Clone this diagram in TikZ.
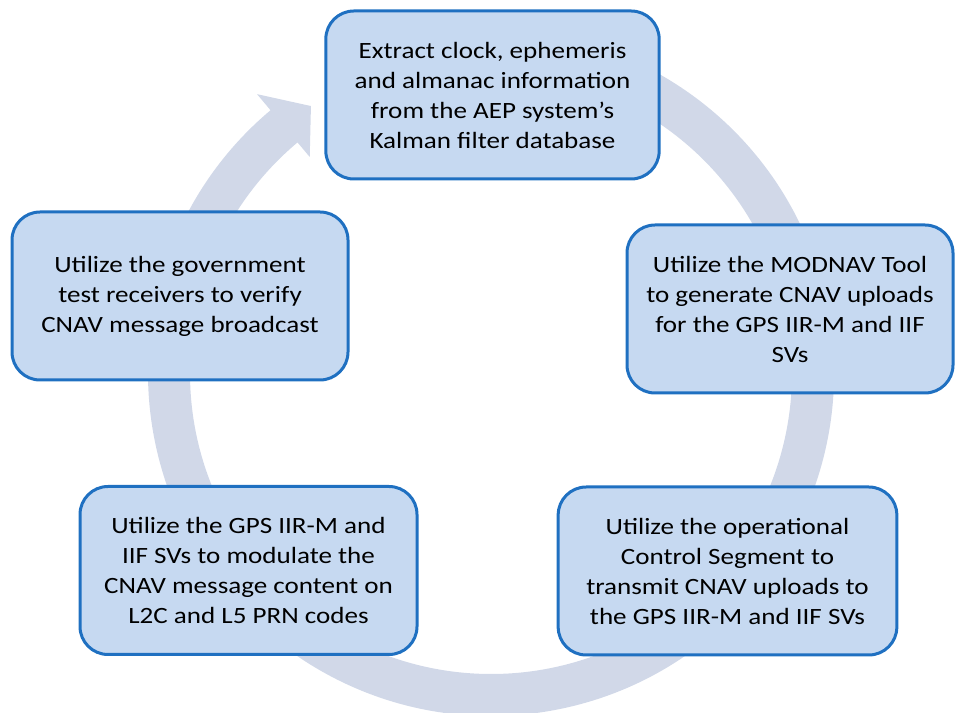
\documentclass[tikz,border=0pt]{standalone}
\usepackage{fontspec}
\setmainfont{Carlito}[FakeStretch=1.16]
\usepackage{tikz}
\usetikzlibrary{calc,positioning}
\definecolor{colorring}{HTML}{D1D8E8}
\definecolor{colorbox}{HTML}{C6D9F1}
\definecolor{colorline}{HTML}{1F70C1}
\tikzset{
  stepbox/.style={draw=colorline, fill=colorbox, line width=2.25pt, rounded corners=21pt,
    align=center, inner sep=0pt, minimum height=126pt,
    font=\fontsize{17.5}{22.5}\selectfont},
  ring/.style={fill=colorring}
}

\begin{document}
\begin{tikzpicture}[x=0.75pt, y=0.75pt]
\useasboundingbox (0,0) rectangle (956,713);
\coordinate (c) at (491,340);
\fill[ring] ($(c)+(100:343)$) arc[start angle=100, end angle=-230, radius=343]
  -- ($(c)+(130:364)$) -- ($(c)+(124:322)$) -- ($(c)+(130:282)$)
  -- ($(c)+(130:301)$) arc[start angle=-230, end angle=100, radius=301] -- cycle;
\node[stepbox, minimum width=250pt] (extract) at (492.5,618)
  {Extract clock, ephemeris\\and almanac information\\from the AEP system's\\Kalman filter database};
\node[stepbox, minimum width=244.5pt] (modnav) at (790,404)
  {Utilize the MODNAV Tool\\to generate CNAV uploads\\for the GPS IIR-M and IIF\\SVs};
\node[stepbox, minimum width=254pt] (upload) at (727.5,142)
  {Utilize the operational\\Control Segment to\\transmit CNAV uploads to\\the GPS IIR-M and IIF SVs};
\node[stepbox, minimum width=252.75pt] (modulate) at (248.5,142.5)
  {Utilize the GPS IIR-M and\\IIF SVs to modulate the\\CNAV message content on\\L2C and L5 PRN codes};
\node[stepbox, minimum width=252pt] (verify) at (180,417)
  {Utilize the government\\test receivers to verify\\CNAV message broadcast};
\end{tikzpicture}
\end{document}
